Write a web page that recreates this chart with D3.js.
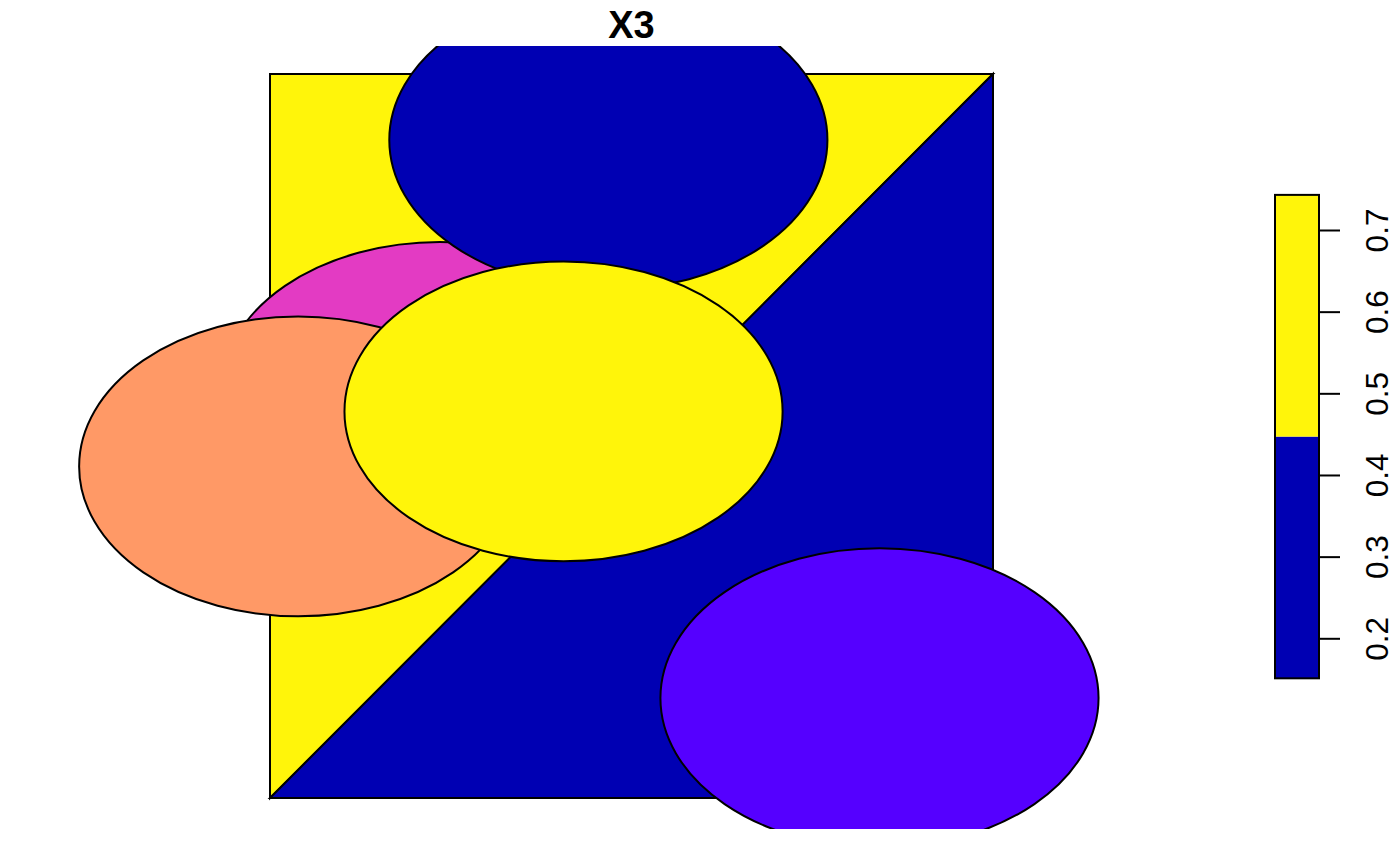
<!DOCTYPE html>
<html>
<head>
<meta charset="utf-8">
<script src="https://cdn.jsdelivr.net/npm/d3@7"></script>
<style>
  body { margin: 0; background: #fff; }
  svg { display: block; font-family: "Liberation Sans", Arial, sans-serif; }
</style>
</head>
<body>
<svg id="chart" width="1400" height="866"></svg>
<script>
// triangles (the square split along its diagonal) and their X3 value
const triangleNames = ["upper-left", "lower-right"];
const triangleX = [[0, 0, 1], [0, 1, 1]];
const triangleY = [[0, 1, 1], [0, 0, 1]];
const triangleValues = [0.743, 0.151];

// ellipses, in the order they are drawn
const ellipseCx = [0.235, 0.468, 0.039, 0.406, 0.843];
const ellipseCy = [0.561, 0.909, 0.458, 0.534, 0.138];
const ellipseColors = ["#e33bc3", "#0000b3", "#ff9966", "#fff50a", "#5500ff"];

// colour key
const legendBreaks = [0.151, 0.447, 0.743];
const legendColors = ["#0000b3", "#fff50a"];
const legendTicks = [0.2, 0.3, 0.4, 0.5, 0.6, 0.7];

const svg = d3.select("#chart");

const x = d3.scaleLinear().domain([0, 1]).range([270, 993]);
const y = d3.scaleLinear().domain([0, 1]).range([798, 74]);
const rx = 0.303, ry = 0.207;

const fill = d3.scaleThreshold()
  .domain(legendBreaks.slice(1, -1))
  .range(legendColors);

svg.append("defs").append("clipPath").attr("id", "plotclip")
  .append("rect").attr("x", 0).attr("y", 46).attr("width", 1230).attr("height", 783);

const plot = svg.append("g").attr("clip-path", "url(#plotclip)");

plot.selectAll("path.tri")
  .data(triangleNames)
  .join("path")
  .attr("class", "tri")
  .attr("d", (d, i) => d3.line()(triangleX[i].map((v, j) => [x(v), y(triangleY[i][j])])) + "Z")
  .attr("fill", (d, i) => fill(triangleValues[i]))
  .attr("stroke", "#000")
  .attr("stroke-width", 2)
  .attr("stroke-linejoin", "miter");

plot.selectAll("ellipse")
  .data(ellipseCx)
  .join("ellipse")
  .attr("cx", d => x(d))
  .attr("cy", (d, i) => y(ellipseCy[i]))
  .attr("rx", x(rx) - x(0))
  .attr("ry", y(0) - y(ry))
  .attr("fill", (d, i) => ellipseColors[i])
  .attr("stroke", "#000")
  .attr("stroke-width", 2);

svg.append("text")
  .attr("x", (x(0) + x(1)) / 2)
  .attr("y", 38)
  .attr("text-anchor", "middle")
  .attr("font-weight", "bold")
  .attr("font-size", 38)
  .text("X3");

// key
const ly = d3.scaleLinear().domain([0.2, 0.7]).range([638.3, 230]);
const key = svg.append("g");
const kx0 = 1275, kx1 = 1319;

key.selectAll("rect")
  .data(legendColors)
  .join("rect")
  .attr("x", kx0)
  .attr("width", kx1 - kx0)
  .attr("y", (d, i) => ly(legendBreaks[i + 1]))
  .attr("height", (d, i) => ly(legendBreaks[i]) - ly(legendBreaks[i + 1]))
  .attr("fill", d => d);

key.append("rect")
  .attr("x", kx0)
  .attr("y", ly(legendBreaks[2]))
  .attr("width", kx1 - kx0)
  .attr("height", ly(legendBreaks[0]) - ly(legendBreaks[2]))
  .attr("fill", "none")
  .attr("stroke", "#000")
  .attr("stroke-width", 2);

const axis = d3.axisRight(ly)
  .tickValues(legendTicks)
  .tickFormat(d3.format(".1f"))
  .tickSize(21)
  .tickPadding(0);

const ax = key.append("g")
  .attr("transform", `translate(${kx1},0)`)
  .call(axis);
ax.select(".domain").remove();
ax.selectAll(".tick line").attr("stroke", "#000").attr("stroke-width", 2);
ax.selectAll(".tick text")
  .attr("font-size", 31.5)
  .attr("font-family", "Liberation Sans, Arial, sans-serif")
  .attr("fill", "#000")
  .attr("text-anchor", "middle")
  .attr("dy", 0)
  .attr("x", 0)
  .attr("transform", "translate(69,0) rotate(-90)");
</script>
</body>
</html>
